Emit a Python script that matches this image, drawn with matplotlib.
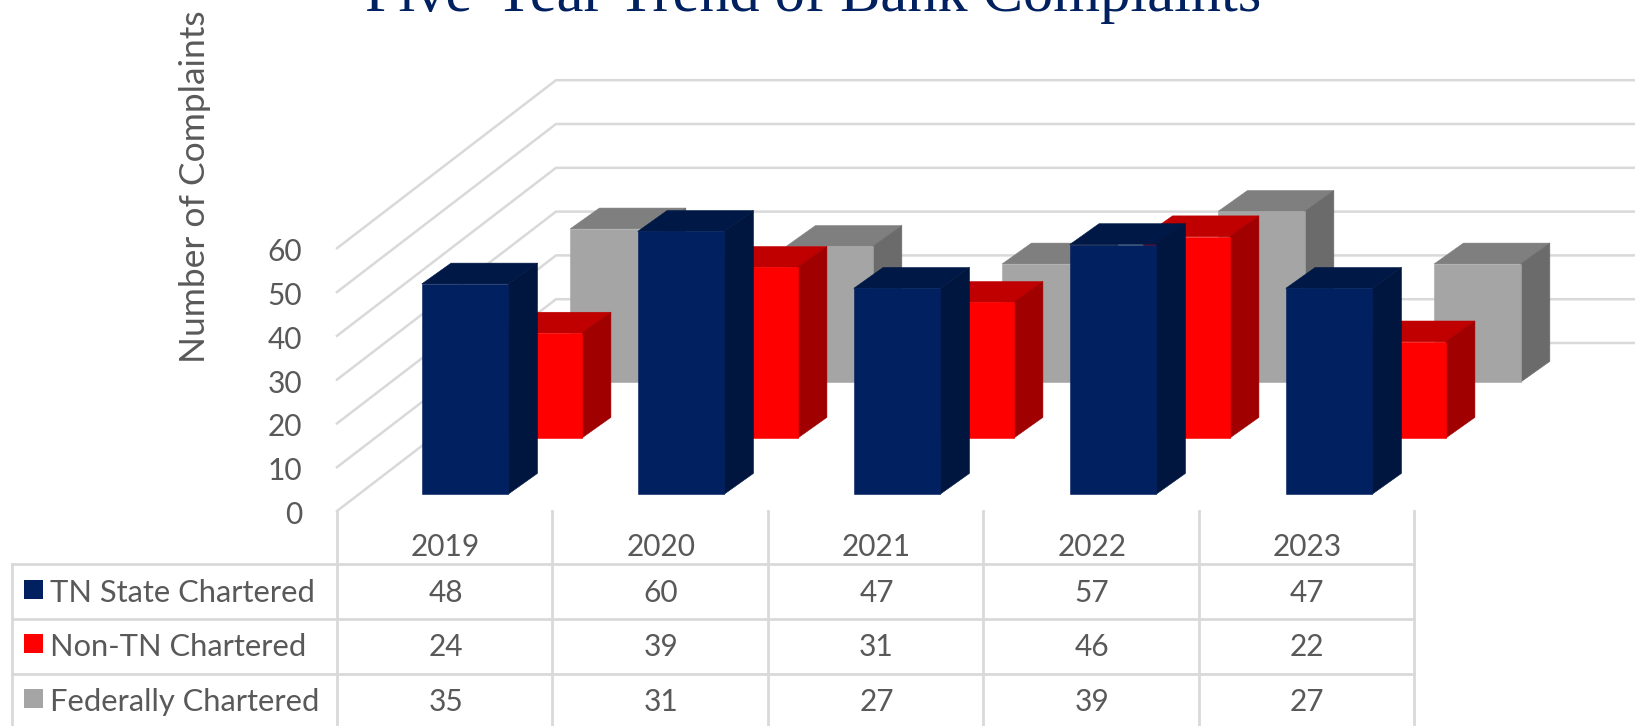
import matplotlib
matplotlib.use('Agg')
import matplotlib.pyplot as plt
from matplotlib.patches import Polygon, Rectangle

# Data
years = ['2019', '2020', '2021', '2022', '2023']
tn_state = [48, 60, 47, 57, 47]
non_tn = [24, 39, 31, 46, 22]
federal = [35, 31, 27, 39, 27]
series_names = ['TN State Chartered', 'Non-TN Chartered', 'Federally Chartered']
y_ticks = [0, 10, 20, 30, 40, 50, 60]

W, H = 1635, 726
plt.rcParams['font.family'] = ['Lato', 'DejaVu Sans']

# front, top, side shades for each series
navy = ['#002060', '#001845', '#00163F']
red = ['#FF0000', '#C00000', '#A00000']
gray = ['#A5A5A5', '#7F7F7F', '#6B6B6B']
text_color = '#595959'
line_color = '#D9D9D9'

# Where the front floor sits in the image
x0_px, cat_px = 337, 216
y0_px, unit_px = 511, 4.38
depth_x, depth_y = 219 / cat_px, 168 / unit_px
col_px = 215.4  # table columns are a little narrower than the bar slots

fig = plt.figure(figsize=(W / 100, H / 100), dpi=100)
ax = fig.add_axes([0, 0, 1, 1])
ax.set_xlim(-x0_px / cat_px, (W - x0_px) / cat_px)
ax.set_ylim((y0_px - H) / unit_px, y0_px / unit_px)
ax.axis('off')


def oblique(x, v, d):
    return (x + d * depth_x, v + d * depth_y)


def py(y):
    return 1 - y / H


# Floor and wall gridlines
for v in y_ticks:
    pts = [oblique(0, v, 0), oblique(0, v, 1), oblique(len(years), v, 1)]
    ax.plot([p[0] for p in pts], [p[1] for p in pts], color=line_color, lw=1.8, zorder=1)


def draw_bar(x, v, d, colors, z):
    w = 0.4
    t = 0.124
    x1 = x + w
    extra = 0.01  # bar sides lean slightly further than the walls do
    front = [oblique(x, 0, d), oblique(x1, 0, d), oblique(x1, v, d), oblique(x, v, d)]
    top = [oblique(x, v, d), oblique(x1, v, d), oblique(x1 + extra, v, d + t), oblique(x + extra, v, d + t)]
    side = [oblique(x1, 0, d), oblique(x1 + extra, 0, d + t), oblique(x1 + extra, v, d + t), oblique(x1, v, d)]
    for pts, c in zip([top, side, front], [colors[1], colors[2], colors[0]]):
        ax.add_patch(Polygon(pts, closed=True, facecolor=c, edgecolor=c, lw=0.4, zorder=z))


# Back series first so the nearer ones cover it
rows = [(federal, gray, 2 / 3 + 0.1, 0.302), (non_tn, red, 1 / 3 + 0.1, 0.293), (tn_state, navy, 0.1, 0.291)]
z = 2
for values, colors, d, gap in rows:
    for i, v in enumerate(values):
        draw_bar(i + gap, v, d, colors, z)
        z += 1

# Value axis labels
for v in y_ticks:
    ax.text(-35 / cat_px, v - 4 / unit_px, str(v), ha='right', va='center', fontsize=21.5, color=text_color)

fig.text(195 / W, py(187), 'Number of Complaints', rotation=90, ha='center', va='center',
         fontsize=25.5, color=text_color)
fig.text(813 / W, py(11), 'Five-Year Trend of Bank Complaints', ha='center', va='baseline',
         fontsize=43.5, color='#002060', family=['Liberation Serif', 'DejaVu Serif'])

# Data table under the plot
for y in [564, 619, 674]:
    fig.add_artist(plt.Line2D([12 / W, (x0_px + 5 * col_px) / W], [py(y), py(y)], color=line_color, lw=2))
fig.add_artist(plt.Line2D([12 / W, 12 / W], [py(564), 0], color=line_color, lw=2))
for i in range(len(years) + 1):
    x = (x0_px + i * col_px) / W
    fig.add_artist(plt.Line2D([x, x], [py(511), 0], color=line_color, lw=2))

row_y = [593, 647, 702]
table_rows = [tn_state, non_tn, federal]
key_colors = [navy[0], red[0], gray[0]]
for i, year in enumerate(years):
    x = (x0_px + (i + 0.5) * col_px + 1) / W
    fig.text(x, py(547), year, ha='center', va='center', fontsize=21.5, color=text_color)
    for values, y in zip(table_rows, row_y):
        fig.text(x, py(y), str(values[i]), ha='center', va='center', fontsize=21.5, color=text_color)

for name, c, y in zip(series_names, key_colors, row_y):
    fig.add_artist(Rectangle((24 / W, py(y + 6)), 19 / W, 19 / H, facecolor=c, edgecolor='none',
                             transform=fig.transFigure))
    fig.text(50 / W, py(y), name, ha='left', va='center', fontsize=22.2, color=text_color)

fig.savefig('out.png', dpi=100)
